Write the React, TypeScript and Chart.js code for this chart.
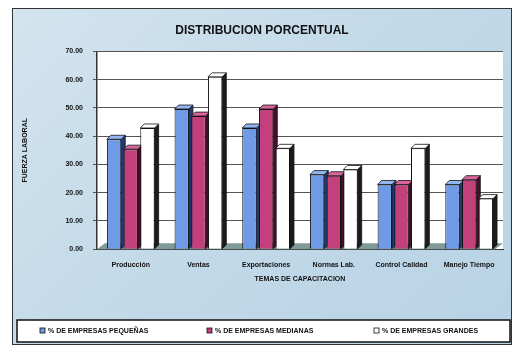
import React, { useEffect, useRef } from "react";
import { Chart, registerables } from "chart.js";

Chart.register(...registerables);

const categories = ["Producción", "Ventas", "Exportaciones", "Normas Lab.", "Control Calidad", "Manejo Tiempo"];
const seriesNames = ["% DE EMPRESAS PEQUEÑAS", "% DE EMPRESAS MEDIANAS", "% DE EMPRESAS GRANDES"];
const pequenas = [38.9, 49.6, 42.9, 26.4, 22.9, 22.9];
const medianas = [35.4, 47.1, 49.6, 26.0, 22.9, 24.6];
const grandes = [42.9, 61.0, 35.7, 28.2, 35.7, 17.9];
const yTitle = "FUERZA LABORAL";
const xTitle = "TEMAS DE CAPACITACION";
const chartTitle = "DISTRIBUCION PORCENTUAL";

const faceColors = ["#6f9be6", "#c2407c", "#ffffff"];
const sideColors = ["#233a7a", "#4a0d2a", "#1c1c1c"];
const topColors = ["#93b6f2", "#d8669c", "#ffffff"];
const FONT = "'Liberation Sans', Arial, sans-serif";

const depthPlugin = {
  id: "depth3d",
  beforeDraw(chart: any) {
    const { ctx, chartArea } = chart;
    ctx.save();
    ctx.fillStyle = "#ffffff";
    ctx.fillRect(chartArea.left, chartArea.top, chartArea.right - chartArea.left, chartArea.bottom - chartArea.top);
    ctx.restore();
  },
  beforeDatasetsDraw(chart: any) {
    const { ctx, chartArea } = chart;
    const dx = 4, dy = -4;
    ctx.save();
    ctx.fillStyle = "#7f9a98";
    ctx.beginPath();
    ctx.moveTo(chartArea.left, chartArea.bottom);
    ctx.lineTo(chartArea.left + 8, chartArea.bottom - 6);
    ctx.lineTo(chartArea.right, chartArea.bottom - 6);
    ctx.lineTo(chartArea.right - 8, chartArea.bottom);
    ctx.closePath();
    ctx.fill();
    chart.data.datasets.forEach((ds: any, di: number) => {
      const meta = chart.getDatasetMeta(di);
      meta.data.forEach((bar: any) => {
        const l = bar.x - bar.width / 2;
        const r = bar.x + bar.width / 2;
        const y = bar.y;
        const b = bar.base;
        ctx.fillStyle = sideColors[di];
        ctx.strokeStyle = "#111";
        ctx.lineWidth = 0.8;
        ctx.beginPath();
        ctx.moveTo(r, y);
        ctx.lineTo(r + dx, y + dy);
        ctx.lineTo(r + dx, b + dy);
        ctx.lineTo(r, b);
        ctx.closePath();
        ctx.fill();
        ctx.stroke();
        ctx.fillStyle = topColors[di];
        ctx.beginPath();
        ctx.moveTo(l, y);
        ctx.lineTo(l + dx, y + dy);
        ctx.lineTo(r + dx, y + dy);
        ctx.lineTo(r, y);
        ctx.closePath();
        ctx.fill();
        ctx.stroke();
      });
    });
    ctx.restore();
  },
  afterDraw(chart: any) {
    const { ctx } = chart;
    const top = 311, h = 22, left = 4, right = chart.width - 1;
    ctx.save();
    ctx.fillStyle = "#ffffff";
    ctx.fillRect(left, top, right - left, h);
    ctx.strokeStyle = "#111";
    ctx.lineWidth = 1.5;
    ctx.strokeRect(left, top, right - left, h);
    const xs = [27, 194, 361];
    ctx.font = `bold 7px ${FONT}`;
    ctx.textBaseline = "middle";
    chart.data.datasets.forEach((ds: any, i: number) => {
      const x = xs[i];
      const y = top + h / 2;
      ctx.fillStyle = faceColors[i];
      ctx.fillRect(x, y - 3, 5, 5);
      ctx.strokeStyle = "#111";
      ctx.lineWidth = 0.8;
      ctx.strokeRect(x, y - 3, 5, 5);
      ctx.fillStyle = "#111";
      ctx.fillText(ds.label, x + 8, y);
    });
    ctx.restore();
  },
};

export default function App() {
  const ref = useRef<HTMLCanvasElement>(null);
  useEffect(() => {
    if (!ref.current) return;
    const chart = new Chart(ref.current, {
      type: "bar",
      data: {
        labels: categories,
        datasets: [pequenas, medianas, grandes].map((d, i) => ({
          label: seriesNames[i],
          data: d,
          backgroundColor: faceColors[i],
          borderColor: "#111",
          borderWidth: 1,
          categoryPercentage: 0.74,
          barPercentage: 0.86,
        })),
      },
      options: {
        animation: false,
        responsive: true,
        maintainAspectRatio: false,
        layout: { padding: { left: 8, right: 8, top: 0, bottom: 61 } },
        plugins: {
          title: {
            display: true,
            text: chartTitle,
            color: "#111",
            font: { family: FONT, size: 12, weight: "bold" },
            padding: { top: 14, bottom: 14 },
          },
          legend: { display: false },
          tooltip: { enabled: false },
        },
        scales: {
          x: {
            grid: { display: false },
            border: { display: true, color: "#333" },
            ticks: { color: "#111", font: { family: FONT, size: 7, weight: "bold" }, maxRotation: 0, autoSkip: false, padding: 4 },
            title: {
              display: true,
              text: xTitle,
              color: "#111",
              font: { family: FONT, size: 7, weight: "bold" },
              padding: { top: 1, bottom: 0 },
            },
          },
          y: {
            min: 0,
            max: 70,
            ticks: {
              stepSize: 10,
              color: "#111",
              font: { family: FONT, size: 7, weight: "bold" },
              callback: (v: any) => Number(v).toFixed(2),
              padding: 10,
            },
            grid: { color: "#555", lineWidth: 1, tickLength: 4 },
            border: { display: true, color: "#333", width: 1.5 },
            title: {
              display: true,
              text: yTitle,
              color: "#111",
              font: { family: FONT, size: 7, weight: "bold" },
              padding: { top: 0, bottom: 26 },
            },
          },
        },
      },
      plugins: [depthPlugin],
    });
    return () => chart.destroy();
  }, []);
  return (
    <div
      style={{
        position: "absolute",
        left: 12,
        top: 8,
        width: 500,
        height: 337,
        border: "1.5px solid #333",
        boxSizing: "border-box",
        background: "linear-gradient(135deg, #d3e4ee 0%, #c2d9e8 50%, #b8d3e6 100%)",
      }}
    >
      <canvas ref={ref} />
    </div>
  );
}
